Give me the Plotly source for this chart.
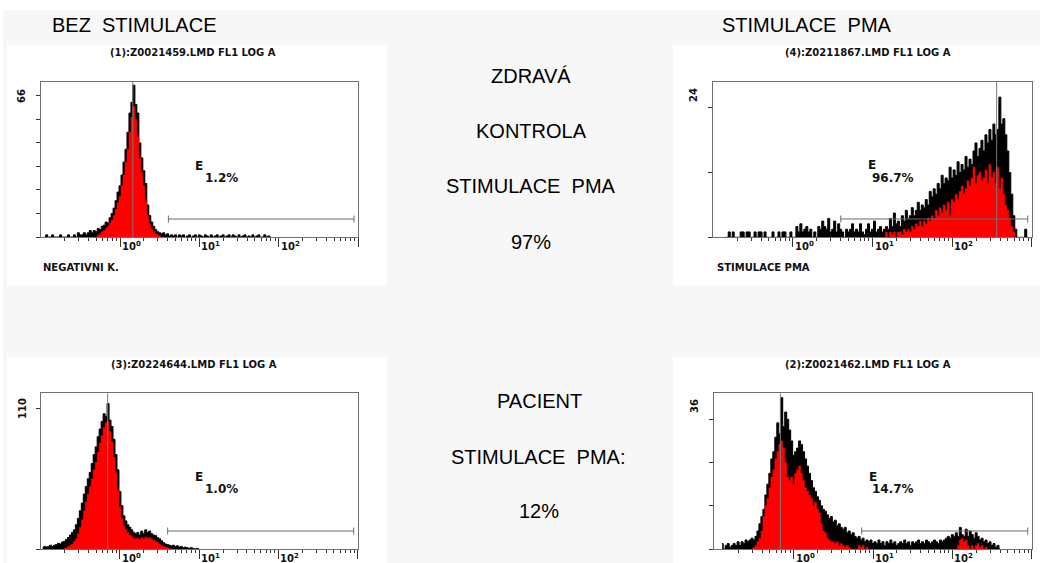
import math
import plotly.graph_objects as go

W, H = 1040, 563
STEP = 0.025  # width of one histogram channel, in decades of FL1

# ---------------- data ----------------
headers = ["BEZ\u00a0 STIMULACE", "STIMULACE\u00a0 PMA"]
middle_top = ["ZDRAVÁ", "KONTROLA", "STIMULACE\u00a0 PMA", "97%"]
middle_bottom = ["PACIENT", "STIMULACE\u00a0 PMA:", "12%"]

titles = ["(1):Z0021459.LMD FL1 LOG A", "(4):Z0211867.LMD FL1 LOG A",
          "(3):Z0224644.LMD FL1 LOG A", "(2):Z0021462.LMD FL1 LOG A"]
max_labels = ["66", "24", "110", "36"]
tick_steps = [11, 12, 110, 12]
y_max = [72.5, 28.8, 122, 43.2]
gate_pct = ["1.2%", "96.7%", "1.0%", "14.7%"]
bottom_labels = ["NEGATIVNI K.", "STIMULACE PMA", "", ""]
cursor_x = [1.45, 363, 0.70, 0.68]
gate_x = [[4.07, 891], [4.0, 891], [4.0, 891], [7.2, 891]]
gate_y = [8.4, 3.4, 14.1, 5.0]
decade_ticks = [1, 10, 100, 1000]
decade_labels = ["0", "1", "2"]

# panel 1 (healthy, unstimulated)
tl_hi_start = -0.95
tl_hi = [0, 1, 0, 0, 1, 0, 0, 0, 1, 0, 0, 0, 1, 0, 0, 1, 0, 2, 1, 1,
         2, 1, 2, 3, 2, 3, 2.5, 4, 3.5, 5, 5.5, 7, 6.5, 9, 11, 13.5, 17, 21, 24, 29,
         35, 41, 49, 58, 63, 71, 62, 58, 44, 37, 31, 25, 15, 10, 7, 5, 3.5, 2.5, 2, 1.5,
         2, 1, 1.5, 0.5, 1, 0.5, 1, 0, 1, 0.5, 1, 0, 0.5, 1, 0, 0.5, 1, 0, 1, 0.5,
         0, 1, 0.5, 0, 1, 0, 0.5, 1, 0, 0.5, 1, 0, 0.5, 1, 0, 1, 0.5, 0, 1, 0,
         0.5, 1, 0, 0.5, 0, 1, 0, 0.5, 1, 0, 0, 1, 0, 0.5, 0]
tl_lo_start = -0.30
tl_lo = [0, 1, 1.5, 2.5, 3, 4, 5, 6.5, 8, 10, 13, 16, 19, 24, 29, 35, 41, 49, 56, 61,
         55, 47, 37, 30, 24, 17, 10, 6, 4, 2.5, 1.5, 1, 0.5, 0]

# panel 4 (healthy, PMA)
tr_hi_start = -0.85
tr_hi = [0, 0, 1, 0, 1, 0, 0, 0, 1, 1, 0, 1, 1, 0, 0, 1, 0, 1, 1, 0,
         1, 0, 0, 0, 1, 0, 0, 1, 0, 1, 1, 0, 0, 1, 0, 0, 2, 1, 2.5, 1,
         1.5, 2, 1, 1.5, 0, 1, 0, 2, 1.5, 3, 2, 1.5, 3.5, 1, 1.5, 3, 1, 2.5, 1.5, 1,
         0, 1.5, 1, 1.5, 2.5, 1, 1.5, 1, 2.5, 1, 0.5, 1.5, 2.5, 1, 1.5, 3, 1, 1.5, 2, 1,
         1.5, 2, 1.5, 3.5, 2, 4.5, 2.5, 3, 2, 4, 3, 5, 3.5, 4, 5.5, 4, 5, 6.5, 5, 6,
         5.5, 7, 6, 8.5, 7.5, 9, 8, 10, 9, 11.5, 10, 11, 10.5, 13, 11, 12.5, 11.5, 14, 12, 13.5,
         12.5, 15, 13, 14.5, 13.5, 16, 17.5, 15, 16.5, 18, 16, 19, 17.5, 20, 18, 21, 19, 20, 26, 21,
         22, 19, 16, 12, 8, 4, 1.5, 0, 0, 0, 0, 1.5, 0]
tr_lo_start = 1.15
tr_lo = [0, 1, 0, 1, 0.5, 1, 0, 1, 1, 0.5, 1.5, 1, 1.5, 1, 2, 1.5, 2.5, 2, 3, 2,
         3, 2.5, 3.5, 3, 4, 3.5, 5, 4, 5.5, 4.5, 6, 5, 6.5, 4, 7, 6.5, 8, 7, 8.5, 9.5,
         8, 9, 10.5, 9.5, 11, 13, 10, 11.5, 12, 10.5, 11, 12.5, 10, 13.5, 11, 12, 10, 13, 9, 11,
         8, 6, 5, 3.5, 2, 1, 0]

# panel 3 (patient, unstimulated)
bl_hi_start = -0.975
bl_hi = [1, 2, 1.5, 2, 3, 2, 3, 3.5, 4.5, 4, 5.5, 6, 7.5, 9, 11, 13, 15, 19, 24, 30,
         36, 43, 49, 55, 60, 67, 74, 80, 88, 94, 100, 106, 104, 114, 101, 96, 86, 74, 62, 45,
         34, 26, 22, 19, 17, 15, 13, 12, 13, 11, 14, 12, 15, 13, 14, 12, 11, 10.5, 9, 8,
         6.5, 5, 4, 3.5, 3, 2.5, 3, 2, 2.5, 1.5, 2, 1, 1.5, 1, 0.5, 1, 0.5, 0, 0.5, 0]
bl_lo_start = -0.70
bl_lo = [0.5, 1, 2, 3, 4, 6, 8, 12, 17, 23, 30, 37, 43, 49, 55, 62, 68, 76, 83, 89,
         95, 99, 100, 92, 84, 72, 60, 46, 33, 24, 18, 15, 13, 11, 10, 8.5, 8, 8.5, 7.5, 9,
         8, 9.5, 8.5, 9, 8, 7, 6, 5, 4, 3, 2, 1.5, 1, 0.5, 0]

# panel 2 (patient, PMA)
br_hi_start = -0.90
br_hi = [1.5, 0, 1, 1.5, 0.5, 1, 1.5, 1, 2, 1, 2, 1.5, 2.5, 2, 2.5, 3, 2.5, 3.5, 5, 7,
         9, 11, 15, 18, 21, 25, 27, 31, 35, 32, 42, 34, 38, 36, 33, 30, 26, 27, 28, 30,
         29, 27, 25, 23, 21, 19, 17, 16, 14.5, 13.5, 12, 11, 10.5, 9.5, 8.5, 9, 7.5, 8, 6.5, 7,
         6, 5.5, 6, 4.5, 5, 4, 4.5, 3.5, 3, 3.5, 2.5, 3, 2, 2.5, 2, 2.5, 1.5, 2, 1.5, 2.5,
         1.5, 2, 1, 2, 1.5, 2.5, 1.5, 2, 1, 1.5, 2, 1.5, 2.5, 1.5, 2, 1, 2, 1.5, 2, 2.5,
         1.5, 2, 1.5, 2.5, 2, 1.5, 2, 2.5, 2, 1.5, 2.5, 2, 2.5, 3, 3.5, 3, 4, 3.5, 4.5, 3.5,
         6, 4, 3.5, 5.5, 3.5, 5, 4, 3, 4.5, 3.5, 2.5, 3, 2, 2.5, 1.5, 2, 1, 1.5, 0.5, 1, 0]
br_lo_start = -0.525
br_lo = [0, 0.5, 1, 2, 3, 5, 9, 12, 14, 17, 20, 22, 25, 27, 29, 30, 28, 24, 20, 19,
         20, 18, 21, 22, 23, 21, 19, 17, 16, 15, 14, 12, 13, 11, 10, 7, 5, 4.5, 3, 2.5,
         2, 2, 1.5, 2, 1, 1.5, 1, 0.5, 1, 0.5, 0, 0, 0, 0, 1, 0.5, 1, 0, 0.5, 0]
br_lo_tail_start = 2.05
br_lo_tail = [0, 1, 2.5, 3, 2, 2.5, 1, 0, 1, 0, 1, 1.5, 0.5, 1, 0, 0.5, 0]

# ---------------- layout geometry (pixels) ----------------
plot_px = [(40.7, 358.0, 82.0, 237.0), (713.3, 1031.7, 82.0, 237.3),
           (40.7, 357.7, 393.3, 549.0), (714.3, 1031.7, 393.3, 549.0)]
title_px = [(193, 52), (868, 52), (194, 364), (867.5, 364)]
maxlab_px = [(21, 96), (694, 95), (22, 409), (694, 406)]
e_px = [(193, 166), (866, 165), (193, 477), (866.7, 477)]
pct_px = [(203, 178), (870, 178), (203, 489), (870, 489)]
bottom_px = [(41, 267), (715, 267), None, None]
white_panels = [(7, 387, 45, 285), (673, 1040, 45, 285), (7, 387, 357, 563), (673, 1040, 357, 563)]

hist = [
    [(tl_hi_start, tl_hi, "black"), (tl_lo_start, tl_lo, "red")],
    [(tr_hi_start, tr_hi, "black"), (tr_lo_start, tr_lo, "red")],
    [(bl_hi_start, bl_hi, "black"), (bl_lo_start, bl_lo, "red")],
    [(br_hi_start, br_hi, "black"), (br_lo_start, br_lo, "red"), (br_lo_tail_start, br_lo_tail, "red")],
]


def px_x(px):
    return px / W


def px_y(py):
    return 1 - py / H


fig = go.Figure()
annotations = []
shapes = [dict(type="rect", xref="paper", yref="paper", x0=px_x(3), x1=1, y0=0, y1=px_y(10),
               fillcolor="#f7f7f7", line=dict(width=0), layer="below")]
for (x0, x1, y0, y1) in white_panels:
    shapes.append(dict(type="rect", xref="paper", yref="paper", x0=px_x(x0), x1=px_x(x1),
                       y0=px_y(y1), y1=px_y(y0), fillcolor="#ffffff", line=dict(width=0), layer="below"))

minor_vals = [m * 10 ** k for k in range(-1, 3) for m in range(2, 10)]
axis_col = "#6f6f6f"
small_font = dict(family="DejaVu Sans", size=10, color="#111111")

for i in range(4):
    n = i + 1
    suf = "" if n == 1 else str(n)
    xa, ya = f"x{suf}", f"y{suf}"
    x0, x1, y0, y1 = plot_px[i]
    for start, vals, col in hist[i]:
        xs = [10 ** (start + STEP * k) for k in range(len(vals))]
        fig.add_trace(go.Scatter(x=xs, y=vals, mode="lines", xaxis=xa, yaxis=ya,
                                 line=dict(color=col, width=1 if col == "black" else 0.5, shape="hvh"),
                                 fill="tozeroy", fillcolor=col, hoverinfo="skip", showlegend=False))
    fig.add_trace(go.Scatter(x=[cursor_x[i], cursor_x[i]], y=[0, y_max[i]], mode="lines",
                             xaxis=xa, yaxis=ya, line=dict(color="#7a7a7a", width=1),
                             hoverinfo="skip", showlegend=False))
    fig.add_trace(go.Scatter(x=gate_x[i], y=[gate_y[i], gate_y[i]], mode="lines+markers",
                             xaxis=xa, yaxis=ya, line=dict(color="#6a6a6a", width=1),
                             marker=dict(symbol="line-ns-open", size=5, color="#6a6a6a",
                                         line=dict(width=1, color="#6a6a6a")),
                             hoverinfo="skip", showlegend=False))
    fig.layout[f"xaxis{suf}"] = dict(
        domain=[px_x(x0), px_x(x1)], type="log", range=[-1, 3], anchor=ya,
        showline=True, mirror=True, linecolor=axis_col, linewidth=1,
        ticks="outside", ticklen=9, tickcolor="#333333", tickvals=decade_ticks,
        showticklabels=False, showgrid=False, zeroline=False, fixedrange=True,
        minor=dict(tickmode="array", tickvals=minor_vals, ticks="outside", ticklen=3,
                   tickcolor="#333333", showgrid=False))
    fig.layout[f"yaxis{suf}"] = dict(
        domain=[px_y(y1), px_y(y0)], range=[0, y_max[i]], anchor=xa,
        showline=True, mirror=True, linecolor=axis_col, linewidth=1,
        ticks="outside", ticklen=4, tickcolor="#333333", tick0=0, dtick=tick_steps[i],
        showticklabels=False, showgrid=False, zeroline=False, fixedrange=True)

    # decade labels
    for k, lab in enumerate(decade_labels):
        annotations.append(dict(xref=xa, yref=f"{ya} domain", x=k, y=0, xanchor="left", yanchor="top",
                                xshift=0, yshift=-1, showarrow=False,
                                text=f"<b>10<sup>{lab}</sup></b>",
                                font=dict(family="DejaVu Sans", size=10, color="#111111")))
    tx, ty = title_px[i]
    annotations.append(dict(xref="paper", yref="paper", x=px_x(tx), y=px_y(ty), xanchor="center",
                            yanchor="middle", showarrow=False, text=f"<b>{titles[i]}</b>", font=small_font))
    mx, my = maxlab_px[i]
    annotations.append(dict(xref="paper", yref="paper", x=px_x(mx), y=px_y(my), xanchor="center",
                            yanchor="middle", showarrow=False, textangle=-90,
                            text=f"<b>{max_labels[i]}</b>", font=small_font))
    ex, ey = e_px[i]
    annotations.append(dict(xref="paper", yref="paper", x=px_x(ex), y=px_y(ey), xanchor="left",
                            yanchor="middle", showarrow=False, text="<b>E</b>",
                            font=dict(family="DejaVu Sans", size=12, color="#111111")))
    qx, qy = pct_px[i]
    annotations.append(dict(xref="paper", yref="paper", x=px_x(qx), y=px_y(qy), xanchor="left",
                            yanchor="middle", showarrow=False, text=f"<b>{gate_pct[i]}</b>",
                            font=dict(family="DejaVu Sans", size=12, color="#111111")))
    if bottom_px[i] is not None:
        bx, by = bottom_px[i]
        annotations.append(dict(xref="paper", yref="paper", x=px_x(bx), y=px_y(by), xanchor="left",
                                yanchor="middle", showarrow=False, text=f"<b>{bottom_labels[i]}</b>",
                                font=small_font))

big_font = dict(family="Liberation Sans, Arial", size=20, color="#000000")
for txt, (hx, hy) in zip(headers, [(50, 25), (720, 25)]):
    annotations.append(dict(xref="paper", yref="paper", x=px_x(hx), y=px_y(hy), xanchor="left",
                            yanchor="middle", showarrow=False, text=txt, font=big_font))
for txt, (cx, cy) in zip(middle_top, [(531, 76), (531, 131), (531, 186), (531, 242)]):
    annotations.append(dict(xref="paper", yref="paper", x=px_x(cx), y=px_y(cy), xanchor="center",
                            yanchor="middle", showarrow=False, text=txt, font=big_font))
for txt, (cx, cy) in zip(middle_bottom, [(539, 401), (538, 457), (539, 511)]):
    annotations.append(dict(xref="paper", yref="paper", x=px_x(cx), y=px_y(cy), xanchor="center",
                            yanchor="middle", showarrow=False, text=txt, font=big_font))

fig.update_layout(width=W, height=H, margin=dict(l=0, r=0, t=0, b=0),
                  paper_bgcolor="#ffffff", plot_bgcolor="rgba(0,0,0,0)",
                  shapes=shapes, annotations=annotations, showlegend=False)
fig.write_html("out.html", config={"displayModeBar": False},
               post_script="document.body.style.margin='0';document.body.style.overflow='hidden';")
